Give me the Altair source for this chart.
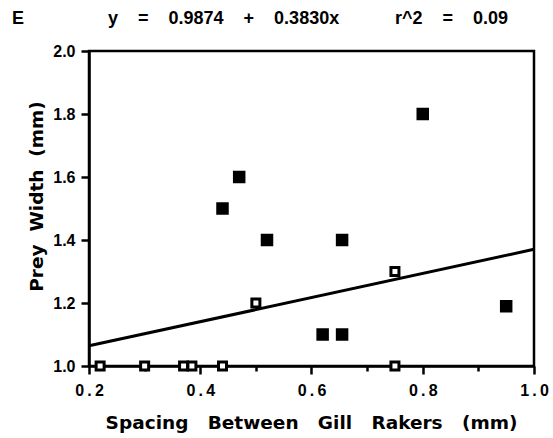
import altair as alt
import pandas as pd

# Spacing between gill rakers (mm) vs prey width (mm)
filled_x = [0.44, 0.47, 0.52, 0.655, 0.62, 0.655, 0.80, 0.95]
filled_y = [1.50, 1.60, 1.40, 1.40, 1.10, 1.10, 1.80, 1.19]

open_x = [0.50, 0.75, 0.22, 0.30, 0.37, 0.385, 0.44, 0.75]
open_y = [1.20, 1.30, 1.00, 1.00, 1.00, 1.00, 1.00, 1.00]

# Fitted regression: y = a + b x
intercept = 0.9874
slope = 0.3830
r_squared = 0.09
x_range = [0.2, 1.0]

x_major = [0.2, 0.3, 0.4, 0.5, 0.6, 0.7, 0.8, 0.9, 1.0]
y_major = [1.0, 1.1, 1.2, 1.3, 1.4, 1.5, 1.6, 1.7, 1.8, 1.9, 2.0]

filled = pd.DataFrame({"x": filled_x, "y": filled_y})
hollow = pd.DataFrame({"x": open_x, "y": open_y})
fit = pd.DataFrame({"x": x_range, "y": [intercept + slope * v for v in x_range]})

NB = "\u00a0"
even_tick = "round(datum.value * 10) % 2 == 0"

x_scale = alt.Scale(domain=[0.2, 1.0], nice=False, zero=False)
y_scale = alt.Scale(domain=[1.0, 2.0], nice=False, zero=False)

x_axis = alt.Axis(
    values=x_major,
    labelExpr="round(datum.value * 10) % 2 == 0 ? replace(format(datum.value, '.1f'), '.', '\u2009.\u2009') : ''",
    title=NB.join(["Spacing", "", "", "Between", "", "", "Gill", "", "", "Rakers", "", "", "(mm)"]),
    titleX=222,
    titleY=62,
    titleBaseline="alphabetic",
    titleFont="DejaVu Sans",
    titleFontSize=18.5,
    titleFontWeight="bold",
    labelFont="Liberation Sans",
    labelFontSize=16,
    labelFontWeight="bold",
    labelPadding=8,
    labelColor="black",
    titleColor="black",
    tickSize={"condition": {"test": even_tick, "value": 8}, "value": 5},
    tickWidth=2.5,
    tickColor="black",
    domainColor="black",
    domainWidth=2.5,
    grid=False,
    labelFlush=False,
)

y_axis = alt.Axis(
    values=y_major,
    labelExpr="round(datum.value * 10) % 2 == 0 ? format(datum.value, '.1f') : ''",
    title=NB.join(["Prey", "", "Width", "", "(mm)"]),
    titleX=-47,
    titleY=145,
    titleAngle=270,
    titleBaseline="alphabetic",
    titleFont="DejaVu Sans",
    titleFontSize=18.5,
    titleFontWeight="bold",
    labelFont="Liberation Sans",
    labelFontSize=16,
    labelFontWeight="bold",
    labelPadding=6,
    labelColor="black",
    titleColor="black",
    tickSize={"condition": {"test": even_tick, "value": 8}, "value": 5},
    tickWidth=2.5,
    tickColor="black",
    domainColor="black",
    domainWidth=2.5,
    grid=False,
    labelFlush=False,
)

line = alt.Chart(fit).mark_line(color="black", strokeWidth=3, clip=False).encode(
    x=alt.X("x:Q", scale=x_scale, axis=x_axis),
    y=alt.Y("y:Q", scale=y_scale, axis=y_axis),
)

solid = alt.Chart(filled).mark_point(
    shape="square", filled=True, size=121, color="black",
    stroke="black", strokeWidth=1.5, opacity=1, clip=False,
).encode(x="x:Q", y="y:Q")

empty = alt.Chart(hollow).mark_point(
    shape="square", filled=True, size=64, fill="white",
    stroke="black", strokeWidth=3, opacity=1, clip=False,
).encode(x="x:Q", y="y:Q")

one = pd.DataFrame({"k": [0]})
eq_text = NB.join(["y", "", "", "", "=", "", "", "", f"{intercept:.4f}", "", "", "", "+", "", "", "", f"{slope:.4f}x"])
r_text = NB.join(["r^2", "", "", "", "=", "", "", "", f"{r_squared:.2f}"])

panel = alt.Chart(one).mark_text(
    text="E", align="left", baseline="alphabetic",
    font="Liberation Sans", fontSize=18, fontWeight="bold", color="black",
).encode(x=alt.value(-77), y=alt.value(-27))

equation = alt.Chart(one).mark_text(
    text=eq_text, align="left", baseline="alphabetic",
    font="Liberation Sans", fontSize=18, fontWeight="bold", color="black",
).encode(x=alt.value(19), y=alt.value(-27))

rsq = alt.Chart(one).mark_text(
    text=r_text, align="left", baseline="alphabetic",
    font="Liberation Sans", fontSize=18, fontWeight="bold", color="black",
).encode(x=alt.value(306), y=alt.value(-27))

chart = alt.layer(line, empty, solid, panel, equation, rsq).properties(
    width=445,
    height=315,
    autosize=alt.AutoSizeParams(type="none"),
    padding={"left": 89, "top": 51, "right": 19, "bottom": 72},
    background="white",
).configure_view(
    stroke="black", strokeWidth=2.5
)

chart.save("out.html", embed_options={"renderer": "svg", "actions": False})
